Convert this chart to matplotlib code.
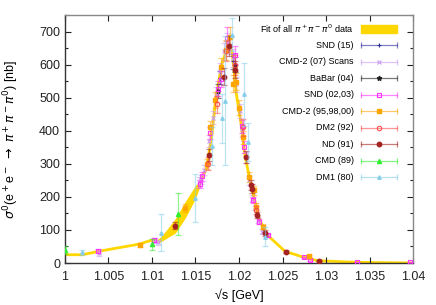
import matplotlib
matplotlib.use("Agg")
import matplotlib.pyplot as plt
from matplotlib.patches import Rectangle
from matplotlib.ticker import MultipleLocator, FixedLocator, FixedFormatter
import numpy as np

plt.rcParams['font.family'] = ['Liberation Sans', 'DejaVu Sans']
plt.rcParams['mathtext.fontset'] = 'dejavusans'

# ---------------- data ----------------
fit_E = [1.000, 1.002, 1.004, 1.0085, 1.0101, 1.0108, 1.0127, 1.0138, 1.0150, 1.0155,
         1.0163, 1.0169, 1.0173, 1.0180, 1.0187, 1.0192, 1.0197, 1.0203, 1.0207,
         1.0214, 1.0222, 1.0230, 1.0253, 1.0275, 1.0290, 1.0335, 1.0400]
fit_s = [25, 25, 36, 57, 70, 66, 113, 160, 215, 240,
         290, 392, 492, 600, 655, 640, 510, 411, 321,
         235, 145, 91, 35, 17, 7, 2, 0]
fit_w = [0, 0, 0, 0, 0, 5, 22, 25, 20, 8,
         0, 0, 0, 0, 0, 0, 0, 0, 0,
         0, 0, 0, 0, 0, 0, 0, 0]

snd15_E = [1.0178, 1.0193]
snd15_s = [560, 610]
snd15_e = [20, 22]

cmd2s_E = [1.0039, 1.0104, 1.0107, 1.0154, 1.0156, 1.0160, 1.0166, 1.0170, 1.0174, 1.0178,
           1.0183, 1.0186, 1.0190, 1.0193, 1.0197, 1.0201, 1.0204, 1.0208, 1.0212, 1.0215,
           1.0218, 1.0222, 1.0226, 1.0232]
cmd2s_s = [30, 68, 62, 245, 252, 280, 370, 440, 510, 580,
           640, 670, 660, 620, 540, 460, 400, 320, 250, 195,
           170, 130, 95, 85]
cmd2s_e = [8, 8, 7, 14, 14, 15, 18, 20, 22, 24,
           26, 27, 27, 26, 24, 22, 20, 17, 14, 12,
           10, 9, 8, 7]

babar_E = [1.0176, 1.0195]
babar_s = [520, 600]
babar_e = [20, 22]

snd0203_E = [1.0038, 1.0102, 1.0155, 1.0157, 1.0167, 1.0176, 1.0179, 1.0186, 1.0195,
             1.0204, 1.0206, 1.0216, 1.0223, 1.0233, 1.0275, 1.0282, 1.0336, 1.0397]
snd0203_s = [36, 70, 238, 262, 392, 527, 557, 680, 628,
             413, 350, 190, 125, 84, 17, 9, 3, 2]
snd0203_e = [5, 6, 12, 13, 18, 22, 24, 35, 27,
             20, 18, 10, 7, 5, 2, 2, 1, 1]

cmd2_E = [1.0086, 1.0138, 1.0163, 1.0167, 1.0172, 1.0179, 1.0185, 1.0190, 1.0193,
          1.0196, 1.0200, 1.0205, 1.0212, 1.0217, 1.0220, 1.0228, 1.0280]
cmd2_s = [55, 165, 300, 410, 492, 592, 643, 683, 542,
          548, 470, 380, 260, 220, 170, 110, 21]
cmd2_e = [6, 12, 16, 20, 24, 28, 30, 30, 26,
          26, 22, 20, 15, 13, 10, 8, 3]

dm2_E = [1.0164, 1.0175, 1.0185, 1.0195, 1.0205, 1.0220]
dm2_s = [300, 480, 640, 600, 410, 160]
dm2_e = [20, 25, 30, 30, 25, 12]

nd_E = [1.0127, 1.01659, 1.01828, 1.01885, 1.01954, 1.02077, 1.02138, 1.02150, 1.02203,
        1.02299, 1.02537, 1.0292]
nd_s = [113, 326, 564, 655, 585, 321, 235, 225, 145, 91, 34, 7]
nd_e = [10, 18, 25, 30, 25, 18, 15, 14, 10, 8, 4, 2]

cmd_E = [1.0000, 1.0100, 1.0130]
cmd_s = [40, 57, 148]
cmd_e = [12, 17, 63]

dm1_E = [1.002, 1.011, 1.015, 1.0169, 1.0180, 1.0184, 1.0192, 1.0206, 1.0210, 1.0230]
dm1_s = [32, 92, 196, 353, 437, 490, 690, 510, 365, 80]
dm1_e = [8, 55, 72, 57, 74, 195, 50, 95, 58, 28]

x_ticks = [1.0, 1.005, 1.01, 1.015, 1.02, 1.025, 1.03, 1.035, 1.04]
x_ticklabels = ['1', '1.005', '1.01', '1.015', '1.02', '1.025', '1.03', '1.035', '1.04']
y_ticks = [0, 100, 200, 300, 400, 500, 600, 700]

series = [
    ("SND (15)", snd15_E, snd15_s, snd15_e, '#2b2b9c', '+', dict(ms=3.5, mew=0.8)),
    ("CMD-2 (07) Scans", cmd2s_E, cmd2s_s, cmd2s_e, '#c99cf2', 'x', dict(ms=3, mew=0.8)),
    ("BaBar (04)", babar_E, babar_s, babar_e, '#222222', '*', dict(ms=3.5)),
    ("SND (02,03)", snd0203_E, snd0203_s, snd0203_e, '#ff33ff', 's', dict(ms=3.2, mfc='none', mew=0.8)),
    ("CMD-2 (95,98,00)", cmd2_E, cmd2_s, cmd2_e, '#ffa500', 's', dict(ms=3.2)),
    ("DM2 (92)", dm2_E, dm2_s, dm2_e, '#ff4f4f', 'o', dict(ms=3.2, mfc='none', mew=0.8)),
    ("ND (91)", nd_E, nd_s, nd_e, '#a52222', 'o', dict(ms=3.2)),
    ("CMD (89)", cmd_E, cmd_s, cmd_e, '#33ee33', '^', dict(ms=3)),
    ("DM1 (80)", dm1_E, dm1_s, dm1_e, '#87ceeb', '^', dict(ms=2.5)),
]

# ---------------- figure ----------------
fig = plt.figure(figsize=(4.36, 3.05), dpi=100)
ax = fig.add_axes([65/436, 1-263/305, 348/436, 248/305])

gold = '#ffd700'
fE = np.array(fit_E); fs = np.array(fit_s); fw = np.array(fit_w)
ax.fill_between(fE, fs - fw, fs + fw, color=gold, lw=0, zorder=1)
ax.plot(fE, fs, color=gold, lw=2.0, zorder=1, solid_joinstyle='round')

z = 2
for name, E, s, e, col, mk, kw in series:
    ax.errorbar(E, s, yerr=e, fmt='none', ecolor=col, elinewidth=0.9, capsize=2.2,
                capthick=0.9, alpha=0.55, zorder=z)
    ax.plot(E, s, ls='none', marker=mk, color=col, mec=col, zorder=z + 0.5, **kw)
    z += 1

ax.set_xlim(1.0, 1.04)
ax.set_ylim(0, 750)
ax.xaxis.set_major_locator(FixedLocator(x_ticks))
ax.xaxis.set_major_formatter(FixedFormatter(x_ticklabels))
ax.yaxis.set_major_locator(FixedLocator(y_ticks))
ax.yaxis.set_minor_locator(MultipleLocator(50))
ax.tick_params(which='both', direction='in', top=True, right=True, labelsize=9, colors='#222222')
ax.tick_params(which='major', length=4, width=0.8)
ax.tick_params(which='minor', length=2.5, width=0.8)
ax.tick_params(axis='x', pad=6)
for sp in ['left', 'bottom']:
    ax.spines[sp].set_color('#333333')
for sp in ['top', 'right']:
    ax.spines[sp].set_color('#888888')
for sp in ax.spines.values():
    sp.set_linewidth(1.0)

ax.set_xlabel('\u221as [GeV]', fontsize=9)
ax.xaxis.set_label_coords(0.5, -0.105)
ax.set_ylabel(r'$\sigma^0$(e$^+$e$^-$ $\rightarrow$ $\pi^+\pi^-\pi^0$) [nb]', fontsize=9)
ax.yaxis.set_label_coords(-0.125, 0.5)

# ---------------- legend (gnuplot style) ----------------
tx = 0.830
x0, x1, xm = 0.851, 0.954, 0.902
y0 = 0.944
dy = 0.0665
ax.add_patch(Rectangle((x0, y0 - 0.017), x1 - x0, 0.034, transform=ax.transAxes,
                       color=gold, clip_on=False, zorder=20))
ax.text(tx, y0, r'Fit of all $\pi^+\pi^-\pi^0$ data', transform=ax.transAxes,
        ha='right', va='center', fontsize=6.5, zorder=20)
for i, (name, E, s, e, col, mk, kw) in enumerate(series):
    y = y0 - (i + 1) * dy
    ax.plot([x0, x1], [y, y], transform=ax.transAxes, color=col, lw=0.9, alpha=0.6,
            marker='|', ms=4, mew=0.9, clip_on=False, zorder=20)
    ax.plot([xm], [y], transform=ax.transAxes, ls='none', marker=mk, color=col, mec=col,
            clip_on=False, zorder=21, **kw)
    ax.text(tx, y, name, transform=ax.transAxes, ha='right', va='center', fontsize=6.5, zorder=20)

fig.savefig('out.png', dpi=100)
